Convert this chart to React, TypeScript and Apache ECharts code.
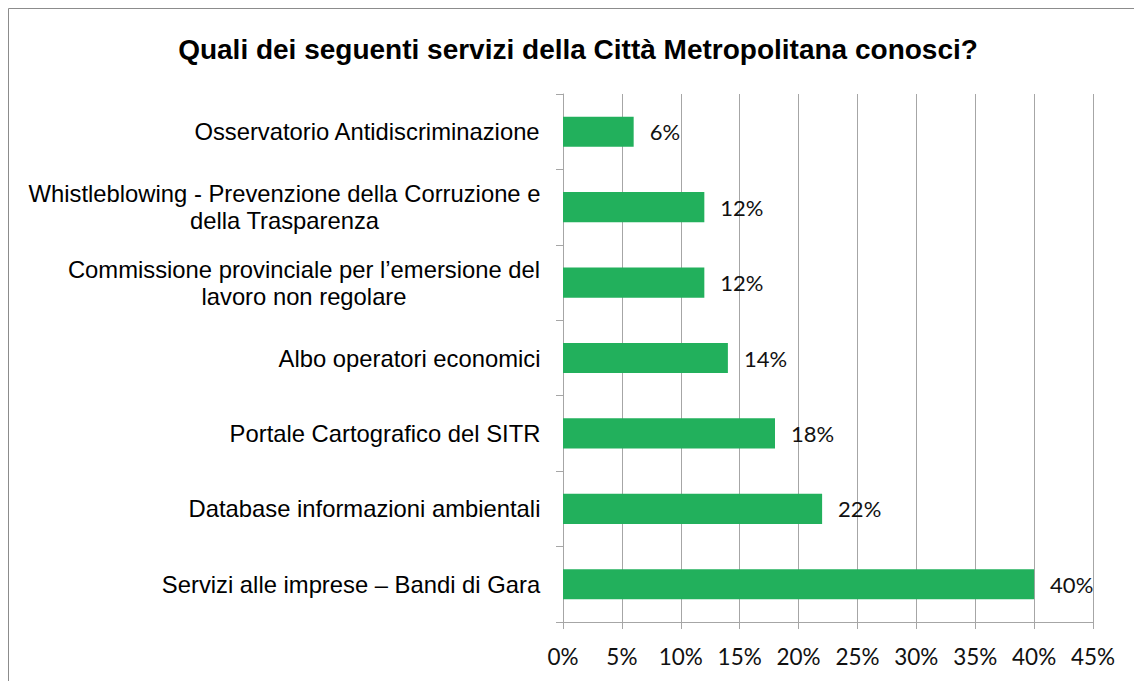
import React, { useEffect, useRef } from "react";
import * as echarts from "echarts";

const categories = [
  "Osservatorio Antidiscriminazione",
  "Whistleblowing - Prevenzione della Corruzione e\ndella Trasparenza",
  "Commissione provinciale per l’emersione del\nlavoro non regolare",
  "Albo operatori economici",
  "Portale Cartografico del SITR",
  "Database informazioni ambientali",
  "Servizi alle imprese – Bandi di Gara",
];
const values = [6, 12, 12, 14, 18, 22, 40];
const xTicks = { min: 0, max: 45, interval: 5 };
const titleText = "Quali dei seguenti servizi della Città Metropolitana conosci?";

const CAT_FONT_SIZE = 23.8;
const CAT_FAMILY = '"Liberation Sans", Arial, sans-serif';
const CAT_FONT = `${CAT_FONT_SIZE}px ${CAT_FAMILY}`;

export default function App() {
  const ref = useRef<HTMLDivElement>(null);
  useEffect(() => {
    document.body.style.overflow = "hidden";
    const el = ref.current!;
    const chart = echarts.init(el, undefined, { renderer: "svg" });
    const cv = document.createElement("canvas");
    const ctx = cv.getContext("2d")!;
    ctx.font = CAT_FONT;
    const rich: Record<string, any> = {};
    categories.forEach((c, i) => {
      const w = Math.max(...c.split("\n").map((l) => ctx.measureText(l).width));
      rich["l" + i] = {
        width: Math.ceil(w) + 1,
        align: "center",
        fontSize: CAT_FONT_SIZE,
        fontFamily: CAT_FAMILY,
        color: "#000",
        lineHeight: 27,
      };
    });
    chart.setOption({
      animation: false,
      backgroundColor: "#fff",
      title: {
        text: titleText,
        left: 565,
        top: 22,
        textAlign: "center",
        textStyle: {
          fontFamily: CAT_FAMILY,
          fontWeight: "bold",
          fontSize: 28,
          color: "#000",
        },
      },
      graphic: [
        {
          type: "rect",
          shape: { x: 0.5, y: 0.5, width: 3000, height: 3000 },
          style: { fill: "none", stroke: "#8c8c8c", lineWidth: 1 },
          silent: true,
        },
      ],
      grid: { left: 555, right: 49, top: 86, bottom: 59, containLabel: false },
      xAxis: {
        type: "value",
        min: xTicks.min,
        max: xTicks.max,
        interval: xTicks.interval,
        axisLine: { show: true, lineStyle: { color: "#a6a6a6", width: 1 } },
        axisTick: { show: true, length: 7, lineStyle: { color: "#a6a6a6" } },
        splitLine: { show: true, lineStyle: { color: "#a6a6a6", width: 1 } },
        axisLabel: {
          formatter: (v: number) => `${v}%`,
          fontFamily: "Lato, sans-serif",
          fontSize: 22.5,
          color: "#111",
          margin: 23,
        },
      },
      yAxis: {
        type: "category",
        inverse: true,
        data: categories,
        axisLine: { show: true, lineStyle: { color: "#a6a6a6", width: 1 } },
        axisTick: { show: true, length: 7, alignWithLabel: false, lineStyle: { color: "#a6a6a6" } },
        axisLabel: {
          margin: 22,
          align: "right",
          formatter: (v: string, i: number) =>
            v
              .split("\n")
              .map((l) => `{l${i}|${l}}`)
              .join("\n"),
          rich,
        },
      },
      series: [
        {
          type: "bar",
          data: values,
          barCategoryGap: "60%",
          itemStyle: { color: "#22b05c" },
          label: {
            show: true,
            position: "right",
            distance: 16,
            formatter: (p: any) => `${p.value}%`,
            fontFamily: "Lato, sans-serif",
            fontSize: 22,
            color: "#111",
          },
        },
      ],
    });
    return () => chart.dispose();
  }, []);
  return <div ref={ref} style={{ width: 1134, height: 673 }} />;
}
